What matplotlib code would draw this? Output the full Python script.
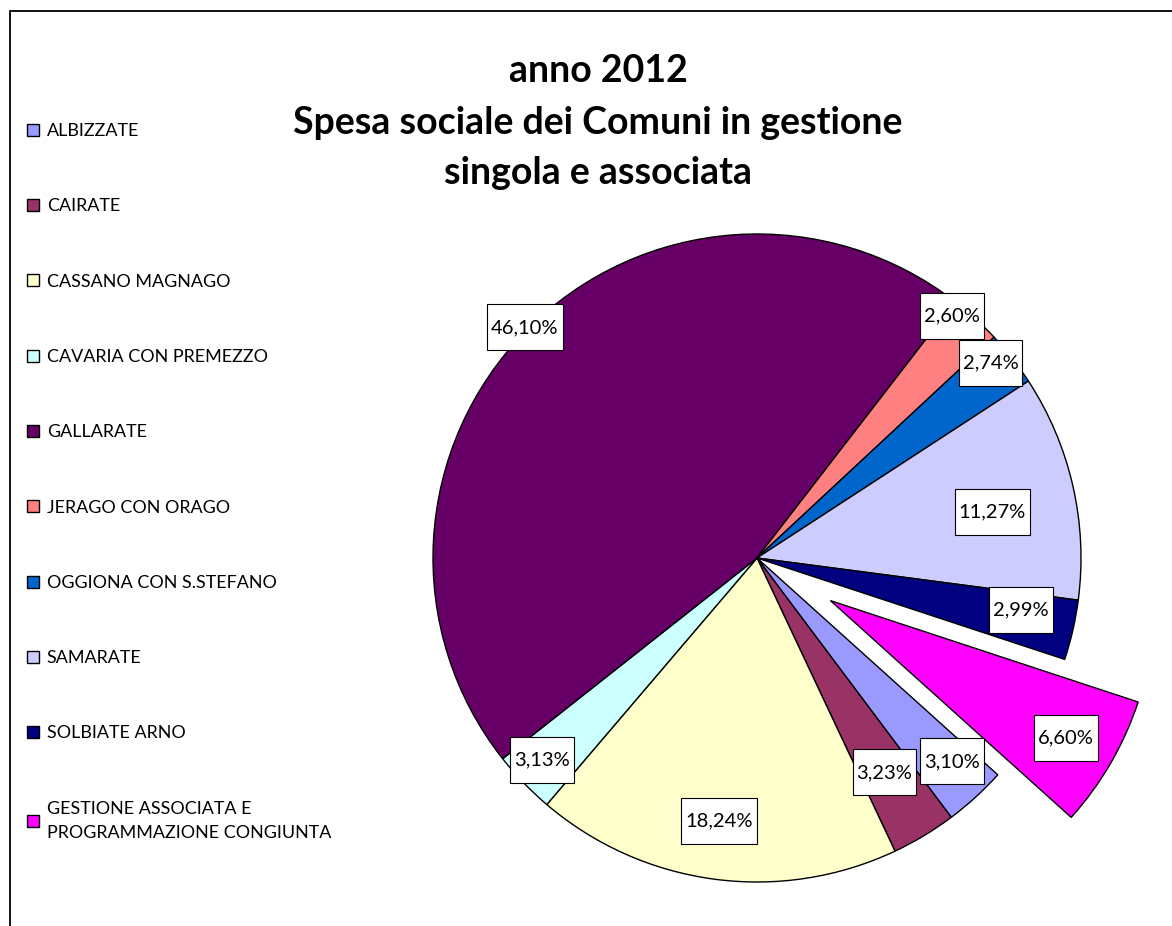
import matplotlib
matplotlib.use('Agg')
import numpy as np
import matplotlib.pyplot as plt
from matplotlib.patches import Rectangle
from matplotlib.path import Path

# spesa sociale 2012, quota percentuale per comune
comuni = ['ALBIZZATE', 'CAIRATE', 'CASSANO MAGNAGO', 'CAVARIA CON PREMEZZO', 'GALLARATE',
          'JERAGO CON ORAGO', 'OGGIONA CON S.STEFANO', 'SAMARATE', 'SOLBIATE ARNO',
          'GESTIONE ASSOCIATA E\nPROGRAMMAZIONE CONGIUNTA']
quote = [3.10, 3.23, 18.24, 3.13, 46.10, 2.60, 2.74, 11.27, 2.99, 6.60]
colori = ['#9999FF', '#993366', '#FFFFCC', '#CCFFFF', '#660066',
          '#FF8080', '#0066CC', '#CCCCFF', '#000080', '#FF00FF']
esploso = [0, 0, 0, 0, 0, 0, 0, 0, 0, 0.262]

# posizione etichette: distanza dal centro (in raggi) e scostamento angolare (gradi)
dist_etichette = [0.87, 0.77, 0.82, 0.91, 1.01, 0.96, 0.94, 0.74, 0.83, 0.84]
shift_etichette = [1.4, -0.3, -0.6, -0.7, -0.1, 3.5, 1.9, -1.7, 1.8, -0.1]

titolo = ['anno 2012', 'Spesa sociale dei Comuni in gestione', 'singola e associata']

plt.rcParams['font.family'] = ['Lato', 'DejaVu Sans']

W, H = 1172, 926
fig = plt.figure(figsize=(W / 100, H / 100), dpi=100)


def riquadro(x0, y0, width, height, mutation_size):
    # riquadro rettangolare con margine verticale piu' ampio di quello orizzontale
    px, py = 0.2 * mutation_size, 0.72 * mutation_size
    x1, y1 = x0 + width + px, y0 + height + py
    x0, y0 = x0 - px, y0 - py
    return Path([(x0, y0), (x1, y0), (x1, y1), (x0, y1), (x0, y0)], closed=True)


# assi quadrati: centro torta (757, 558), raggio 324 px
R = 324
cx, cy = 757, 558
lato = 2.5 * R
ax = fig.add_axes([(cx - lato / 2) / W, (H - cy - lato / 2) / H, lato / W, lato / H])

wedges, _ = ax.pie(quote, colors=colori, explode=esploso, startangle=-42, counterclock=False,
                   wedgeprops=dict(edgecolor='black', linewidth=1.0))
ax.set_xlim(-1.25, 1.25)
ax.set_ylim(-1.25, 1.25)
ax.set_aspect('equal')

# etichette percentuali in riquadri bianchi
for w, q, d, s in zip(wedges, quote, dist_etichette, shift_etichette):
    ang = np.deg2rad((w.theta1 + w.theta2) / 2 + s)
    x = w.center[0] + d * w.r * np.cos(ang)
    y = w.center[1] + d * w.r * np.sin(ang)
    ax.text(x, y, f'{q:.2f}%'.replace('.', ','), ha='center', va='center', fontsize=14.5,
            bbox=dict(boxstyle=riquadro, facecolor='white', edgecolor='black', linewidth=0.8))

# titolo su tre righe
for riga, base in zip(titolo, [82, 134, 184]):
    fig.text(598 / W, 1 - base / H, riga, ha='center', va='baseline', fontsize=27, fontweight='bold')

# legenda a sinistra
leg = fig.legend(wedges, comuni, loc='upper left', bbox_to_anchor=(27 / W, 1 - 123 / H),
                 frameon=False, fontsize=12.9, labelspacing=3.31, handlelength=0.65, handleheight=0.65,
                 handletextpad=0.45, borderpad=0, borderaxespad=0)
leg.get_texts()[-1].set_linespacing(1.6)

# cornice del grafico
fig.add_artist(Rectangle((10 / W, -0.1), 1.2, 1 - 11 / H + 0.1, transform=fig.transFigure,
                         fill=False, edgecolor='black', linewidth=1.3))

fig.savefig('out.png', dpi=100)
